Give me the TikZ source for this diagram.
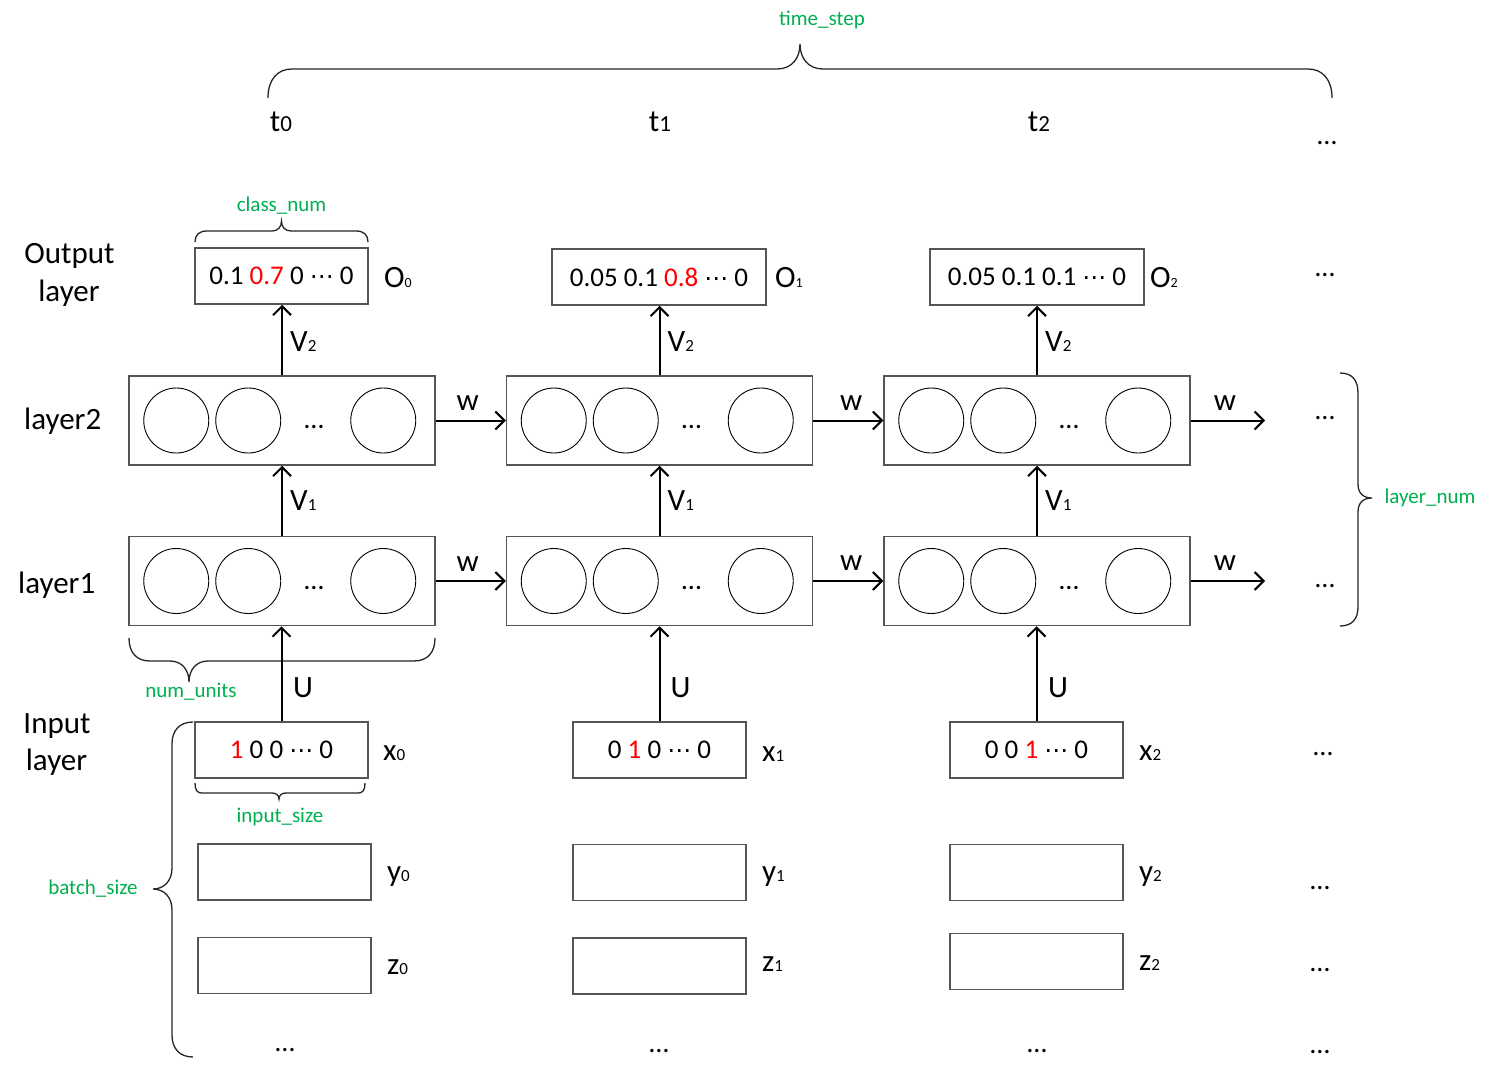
\documentclass[tikz,border=0pt]{standalone}
\usepackage{fontspec}
\setmainfont{Carlito}
\newfontfamily\djv{DejaVu Sans}
\usetikzlibrary{arrows.meta}
\definecolor{mygreen}{RGB}{0,176,80}
\definecolor{boxgray}{RGB}{85,85,85}
\definecolor{myred}{RGB}{255,0,0}
\newcommand{\sbs}[1]{{\fontsize{17}{17}\selectfont #1}}
\newcommand{\sbo}[1]{{\fontsize{14}{14}\selectfont #1}}
\newcommand{\sbt}[1]{{\fontsize{23}{23}\selectfont #1}}
\newcommand{\cdt}{{\djv\fontsize{24}{24}\selectfont ⋯}}
\begin{document}
\begin{tikzpicture}[x=1pt,y=-1pt]
\tikzset{
 lbl/.style={font=\fontsize{31}{38}\selectfont, inner sep=0pt},
 numtext/.style={font=\fontsize{27}{32}\selectfont},
 grn/.style={font=\fontsize{21}{25}\selectfont, text=mygreen, inner sep=0pt},
 dotl/.style={font=\fontsize{28}{30}\selectfont, inner sep=0pt, anchor=base},
 vecbox/.style={draw=boxgray, line width=1.5pt, minimum width=173pt, minimum height=56pt, inner sep=0pt, numtext},
 layerbox/.style={draw=boxgray, line width=1.5pt, minimum width=306pt, minimum height=89pt, inner sep=0pt},
 neuron/.style={circle, draw=black, line width=0.9pt, minimum size=65pt, inner sep=0pt},
 arr/.style={line width=2pt, -{Straight Barb[length=9pt,width=18pt]}},
 brc/.style={line width=1.3pt, draw=black!85},
}
\fill[white] (0,0) rectangle (1488,1078);
\useasboundingbox (0,0) rectangle (1488,1078);

% ---- top brace and time labels
\draw[brc] (268,98) .. controls (268,80) and (277,69) .. (292,69) -- (777,69) .. controls (792,69) and (800,58) .. (800,44) .. controls (800,58) and (808,69) .. (823,69) -- (1308,69) .. controls (1323,69) and (1332,80) .. (1332,98);
\node[grn] (timestep) at (822,20) {time\_step};
\node[lbl, anchor=base] (t0) at (281,132) {t\sbt{0}};
\node[lbl, anchor=base] (t1) at (660,132) {t\sbt{1}};
\node[lbl, anchor=base] (t2) at (1039,132) {t\sbt{2}};
\node[dotl] (dtop) at (1327,145) {…};

% ---- left labels
\node[lbl, anchor=base] (outA) at (69.5,263) {Output};
\node[lbl, anchor=base] (outB) at (69,301) {layer};
\node[lbl, anchor=base west] (l2lab) at (24,429) {layer2};
\node[lbl, anchor=base west] (l1lab) at (18,593) {layer1};
\node[lbl, anchor=base] (inA) at (57,733) {Input};
\node[lbl, anchor=base] (inB) at (56.5,770) {layer};

% ---- output boxes
\node[vecbox] (O0) at (281.5,276) {0.1 \textcolor{myred}{0.7} 0 \cdt{} 0};
\node[vecbox, minimum width=214pt] (O1) at (659,277) {0.05 0.1 \textcolor{myred}{0.8} \cdt{} 0};
\node[vecbox, minimum width=214pt] (O2) at (1037,277) {0.05 0.1 0.1 \cdt{} 0};
\node[lbl, anchor=base west] (O0l) at (384,287) {O\sbo{0}};
\node[lbl, anchor=base west] (O1l) at (775,287) {O\sbo{1}};
\node[lbl, anchor=base west] (O2l) at (1150,287) {O\sbo{2}};
\node[dotl] (dout) at (1325,276) {…};
\draw[brc] (195,242) .. controls (195,235) and (199,231) .. (207,231) -- (272,231) .. controls (278,231) and (281.5,227) .. (281.5,221) .. controls (281.5,227) and (285,231) .. (291,231) -- (356,231) .. controls (364,231) and (368,235) .. (368,242);
\node[grn] (classnum) at (281.5,206) {class\_num};

% ---- layer boxes
\foreach \c/\cx in {a/282,b/659.5,c/1037}{
  \node[layerbox] (L2\c) at (\cx,420.5) {};
  \node[layerbox] (L1\c) at (\cx,581) {};
  \foreach \k/\off in {1/48,2/120,3/255}{
    \node[neuron] (n2\c\k) at ([xshift=\off pt]L2\c.west) {};
    \node[neuron] (n1\c\k) at ([xshift=\off pt]L1\c.west) {};
  }
  \node[dotl] (d2\c) at ([xshift=32pt]L2\c.center |- 0,428) {…};
  \node[dotl] (d1\c) at ([xshift=32pt]L1\c.center |- 0,589) {…};
}

% ---- vertical arrows
\draw[arr] (L2a.north) -- (L2a.north |- O0.south);
\draw[arr] (L2b.north) -- (L2b.north |- O1.south);
\draw[arr] (L2c.north) -- (L2c.north |- O2.south);
\draw[arr] (L1a.north) -- (L1a.north |- L2a.south);
\draw[arr] (L1b.north) -- (L1b.north |- L2b.south);
\draw[arr] (L1c.north) -- (L1c.north |- L2c.south);
\foreach \c/\cx in {a/282,b/659.5,c/1037}{
  \node[lbl, anchor=west] (V2\c) at (\cx+8,342) {V\sbs{2}};
  \node[lbl, anchor=west] (V1\c) at (\cx+8,500.5) {V\sbs{1}};
  \node[lbl, anchor=west] (U\c) at (\cx+11,688) {U};
}

% ---- horizontal arrows
\coordinate (e2) at (1265,420.5);
\coordinate (e1) at (1265,581);
\draw[arr] (L2a.east) -- node[lbl, above=9pt, xshift=-3pt] (w2a) {w} (L2b.west);
\draw[arr] (L2b.east) -- node[lbl, above=9pt, xshift=3pt] (w2b) {w} (L2c.west);
\draw[arr] (L2c.east) -- node[lbl, above=9pt, xshift=-3pt] (w2c) {w} (e2);
\draw[arr] (L1a.east) -- node[lbl, above=9pt, xshift=-3pt] (w1a) {w} (L1b.west);
\draw[arr] (L1b.east) -- node[lbl, above=10pt, xshift=3pt] (w1b) {w} (L1c.west);
\draw[arr] (L1c.east) -- node[lbl, above=10pt, xshift=-3pt] (w1c) {w} (e1);
\node[dotl] (dr2) at (1325,419) {…};
\node[dotl] (dr1) at (1325,587) {…};
\draw[brc] (1340,373) .. controls (1352,373) and (1358,380) .. (1358,393) -- (1358,484) .. controls (1358,493) and (1363,498) .. (1372,498) .. controls (1363,498) and (1358,503) .. (1358,512) -- (1358,607) .. controls (1358,619) and (1352,626) .. (1340,626);
\node[grn] (layernum) at (1430,498) {layer\_num};

\draw[brc] (129,638) .. controls (129,652) and (136,661) .. (150,661) -- (170,661) .. controls (182,661) and (189,670) .. (189,682) .. controls (189,670) and (196,661) .. (208,661) -- (414,661) .. controls (428,661) and (435,652) .. (435,638);
\node[grn] (numunits) at (191,692) {num\_units};

% ---- input boxes
\node[vecbox] (X0) at (281.5,750) {\textcolor{myred}{1} 0 0 \cdt{} 0};
\node[vecbox] (X1) at (659.5,750) {0 \textcolor{myred}{1} 0 \cdt{} 0};
\node[vecbox] (X2) at (1036.5,750) {0 0 \textcolor{myred}{1} \cdt{} 0};
\draw[arr] (X0.north) -- (X0.north |- L1a.south);
\draw[arr] (X1.north) -- (X1.north |- L1b.south);
\draw[arr] (X2.north) -- (X2.north |- L1c.south);
\node[lbl, anchor=base west] (X0l) at (383,760) {x\sbs{0}};
\node[lbl, anchor=base west] (X1l) at (762,761) {x\sbs{1}};
\node[lbl, anchor=base west] (X2l) at (1139,760) {x\sbs{2}};
\node[dotl] (dx) at (1323,755) {…};
\draw[brc] (195,783) .. controls (195,790) and (197,793) .. (202,793) -- (272,793) .. controls (276,793) and (279,795) .. (279,799) .. controls (279,795) and (282,793) .. (286,793) -- (358,793) .. controls (363,793) and (365,790) .. (365,783);
\node[grn] (inputsize) at (280,817) {input\_size};

\node[vecbox] (Y0) at (284.5,872) {};
\node[vecbox] (Y1) at (659.5,872.5) {};
\node[vecbox] (Y2) at (1036.5,872.5) {};
\node[lbl, anchor=base west] (Y0l) at (387,881) {y\sbs{0}};
\node[lbl, anchor=base west] (Y1l) at (762,881) {y\sbs{1}};
\node[lbl, anchor=base west] (Y2l) at (1139,881) {y\sbs{2}};
\node[dotl] (dy) at (1320,889) {…};

\node[vecbox] (Z0) at (284.5,965.5) {};
\node[vecbox] (Z1) at (659.5,966) {};
\node[vecbox] (Z2) at (1036.5,961.5) {};
\node[lbl, anchor=base west] (Z0l) at (387,974) {z\sbs{0}};
\node[lbl, anchor=base west] (Z1l) at (762,971) {z\sbs{1}};
\node[lbl, anchor=base west] (Z2l) at (1139,970) {z\sbs{2}};
\node[dotl] (dz) at (1320,971) {…};

\node[dotl] (db0) at (285,1051) {…};
\node[dotl] (db1) at (659,1052) {…};
\node[dotl] (db2) at (1037,1052) {…};
\node[dotl] (db3) at (1320,1053) {…};

\draw[brc] (193,722) .. controls (180,722) and (172,730) .. (172,744) -- (172,868) .. controls (172,881) and (164,889) .. (153,889) .. controls (164,889) and (172,897) .. (172,910) -- (172,1035) .. controls (172,1049) and (180,1057) .. (193,1057);
\node[grn] (batchsize) at (93,889) {batch\_size};
\end{tikzpicture}
\end{document}
